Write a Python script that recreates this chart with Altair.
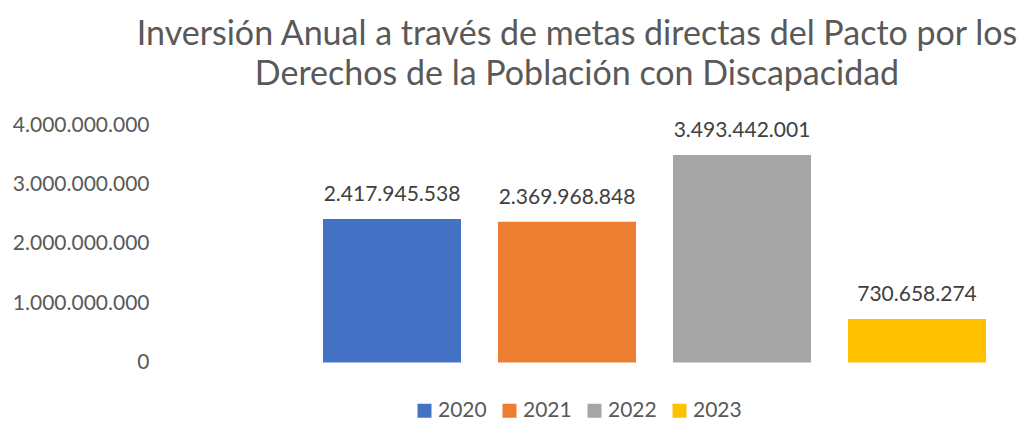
import altair as alt
import pandas as pd

years = ["2020", "2021", "2022", "2023"]
values = [2417945538, 2369968848, 3493442001, 730658274]
labels = ["2.417.945.538", "2.369.968.848", "3.493.442.001", "730.658.274"]
colors = ["#4472C4", "#ED7D31", "#A5A5A5", "#FFC000"]
y_ticks = [0, 1000000000, 2000000000, 3000000000, 4000000000]

df = pd.DataFrame({"year": years, "value": values, "label": labels})

FONT = "Lato"

x = alt.X("year:N", axis=None,
          scale=alt.Scale(range=[144.5, 844.5], paddingInner=0.2114, paddingOuter=0.1057))
y = alt.Y("value:Q",
          scale=alt.Scale(domain=[0, 4000000000], nice=False),
          axis=alt.Axis(title=None, values=y_ticks, grid=False, domain=False, ticks=False,
                        labelExpr="replace(format(datum.value, ',d'), /,/g, '.')",
                        labelFont=FONT, labelFontSize=21, labelColor="#595959",
                        labelPadding=11))

bars = alt.Chart(df).mark_bar().encode(
    x=x, y=y,
    color=alt.Color("year:N",
                    scale=alt.Scale(domain=years, range=colors),
                    legend=alt.Legend(title=None, orient="none", direction="horizontal",
                                      legendX=254, legendY=275,
                                      symbolType="square", symbolSize=196,
                                      symbolStrokeWidth=0,
                                      labelFont=FONT, labelFontSize=21,
                                      labelColor="#595959", labelOffset=3,
                                      columnPadding=12)),
)

text = alt.Chart(df).mark_text(baseline="bottom", dy=-14, font=FONT, fontSize=21,
                               color="#404040").encode(
    x=x, y=y, text="label:N"
)

chart = (bars + text).properties(
    width=860, height=237.5,
    title=alt.Title(["Inversión Anual a través de metas directas del Pacto por los",
                     "Derechos de la Población con Discapacidad"],
                    font=FONT, fontSize=34, fontWeight="normal", color="#595959",
                    anchor="middle", frame="group", dx=-13, offset=22, lineHeight=40),
    autosize=alt.AutoSizeParams(type="none"),
    padding={"left": 152, "top": 117, "right": 0, "bottom": 60},
).configure_view(stroke=None)

chart.save("out.html", embed_options={"renderer": "svg", "actions": False})
